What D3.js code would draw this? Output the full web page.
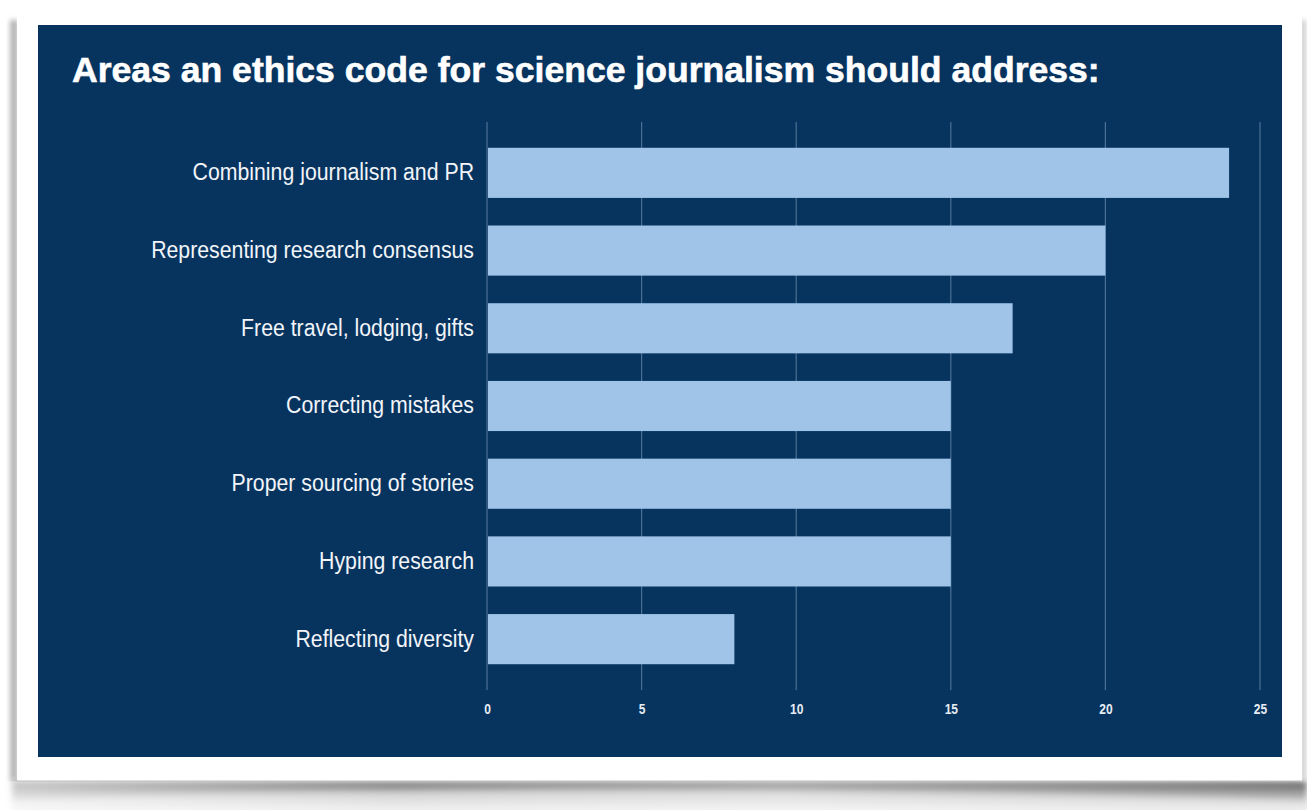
<!DOCTYPE html>
<html>
<head>
<meta charset="utf-8">
<script src="https://cdn.jsdelivr.net/npm/d3@7"></script>
<style>
html,body{margin:0;padding:0;background:#ffffff;}
svg{display:block;}
</style>
</head>
<body>
<svg id="chart" width="1307" height="810"></svg>
<script>
const title = "Areas an ethics code for science journalism should address:";
const categories = [
  "Combining journalism and PR",
  "Representing research consensus",
  "Free travel, lodging, gifts",
  "Correcting mistakes",
  "Proper sourcing of stories",
  "Hyping research",
  "Reflecting diversity"
];
const values = [24, 20, 17, 15, 15, 15, 8];
const tickValues = [0, 5, 10, 15, 20, 25];

const svg = d3.select("#chart");
const defs = svg.append("defs");

// shadow gradients
const gBottom = defs.append("linearGradient").attr("id","shB").attr("x1",0).attr("y1",0).attr("x2",0).attr("y2",1);
gBottom.append("stop").attr("offset","0%").attr("stop-color","#5a5a5a").attr("stop-opacity",1);
gBottom.append("stop").attr("offset","35%").attr("stop-color","#8e8e8e").attr("stop-opacity",0.9);
gBottom.append("stop").attr("offset","100%").attr("stop-color","#c8c8c8").attr("stop-opacity",0.5);
const gSide = defs.append("linearGradient").attr("id","shH").attr("x1",0).attr("y1",0).attr("x2",1).attr("y2",0);
gSide.append("stop").attr("offset","0%").attr("stop-color","#ffffff").attr("stop-opacity",0.6);
gSide.append("stop").attr("offset","30%").attr("stop-color","#ffffff").attr("stop-opacity",0.15);
gSide.append("stop").attr("offset","60%").attr("stop-color","#ffffff").attr("stop-opacity",0.35);
gSide.append("stop").attr("offset","100%").attr("stop-color","#ffffff").attr("stop-opacity",0.0);
const blur = defs.append("filter").attr("id","blur").attr("x","-10%").attr("y","-50%").attr("width","120%").attr("height","200%");
blur.append("feGaussianBlur").attr("stdDeviation",3);
const blur2 = defs.append("filter").attr("id","blur2").attr("x","-50%").attr("y","-5%").attr("width","200%").attr("height","110%");
blur2.append("feGaussianBlur").attr("stdDeviation",2.5);

// bottom shadow
svg.append("path")
  .attr("d","M12,781 L1307,781 L1307,812 L12,812 Z")
  .attr("fill","url(#shB)").attr("filter","url(#blur)");
svg.append("path")
  .attr("d","M0,800 C300,788 800,786 1307,800 L1307,812 L0,812 Z")
  .attr("fill","#ffffff").attr("opacity",0.45).attr("filter","url(#blur)");
svg.append("rect").attr("x",0).attr("y",781).attr("width",1307).attr("height",30).attr("fill","url(#shH)");
// side shadows
svg.append("rect").attr("x",10).attr("y",20).attr("width",8).attr("height",760).attr("fill","#b5b5b5").attr("filter","url(#blur2)");
svg.append("rect").attr("x",1300).attr("y",20).attr("width",6).attr("height",760).attr("fill","#cfcfcf").attr("filter","url(#blur2)");

// white card
svg.append("rect").attr("x",17).attr("y",5).attr("width",1285).attr("height",776).attr("fill","#ffffff");
svg.append("line").attr("x1",17).attr("x2",1302).attr("y1",781).attr("y2",781).attr("stroke","#bdbdbd").attr("stroke-width",1);

// navy panel
svg.append("rect").attr("x",38).attr("y",25).attr("width",1244).attr("height",732).attr("fill","#07345f");

// title
const tEl = svg.append("text")
  .attr("x",72).attr("y",82)
  .attr("fill","#ffffff")
  .attr("font-family","'Liberation Sans', Arial, sans-serif")
  .attr("font-weight","bold")
  .attr("font-size",28)
  .attr("stroke","#ffffff").attr("stroke-width",0.6)
  .text(title);
const tw = tEl.node().getComputedTextLength();
tEl.attr("font-size", 28 * 1028 / tw);

// scales
const x = d3.scaleLinear().domain([0,25]).range([487,1260]);
const y = d3.scaleBand().domain(categories).range([134,678]).paddingInner(0.355).paddingOuter(0.1775);

// gridlines
svg.append("g").selectAll("line").data(tickValues).join("line")
  .attr("x1",d=>x(d)).attr("x2",d=>x(d))
  .attr("y1",122).attr("y2",690)
  .attr("stroke","#5d7fa3").attr("stroke-opacity",0.8).attr("stroke-width",1.2);

// bars
svg.append("g").selectAll("rect").data(values).join("rect")
  .attr("x",x(0)+1)
  .attr("y",(d,i)=>y(categories[i]))
  .attr("width",d=>x(d)-x(0)-1)
  .attr("height",y.bandwidth())
  .attr("fill","#9fc4e8");

// condensed text helper
function condense(sel, ratio){
  sel.each(function(){
    const w = this.getComputedTextLength();
    d3.select(this).attr("textLength", w*ratio).attr("lengthAdjust","spacingAndGlyphs");
  });
}

// x axis tick labels
const xAxis = d3.axisBottom(x).tickValues(tickValues).tickSize(0).tickPadding(0);
const gx = svg.append("g").attr("transform","translate(0,714)").call(xAxis);
gx.select(".domain").remove();
gx.selectAll("text")
  .attr("dy",0)
  .attr("fill","#e6ecf3")
  .attr("font-family","'Liberation Sans',sans-serif")
  .attr("font-weight","bold")
  .attr("font-size",15)
  .call(condense, 0.8);

// y axis labels
const yAxis = d3.axisLeft(y).tickSize(0).tickPadding(13);
const gy = svg.append("g").attr("transform",`translate(${x(0)},0)`).call(yAxis);
gy.select(".domain").remove();
gy.selectAll("text")
  .attr("fill","#f2f5f9")
  .attr("font-family","'Liberation Sans',sans-serif")
  .attr("font-size",23)
  .attr("dy","0.32em")
  .call(condense, 0.925);
</script>
</body>
</html>
